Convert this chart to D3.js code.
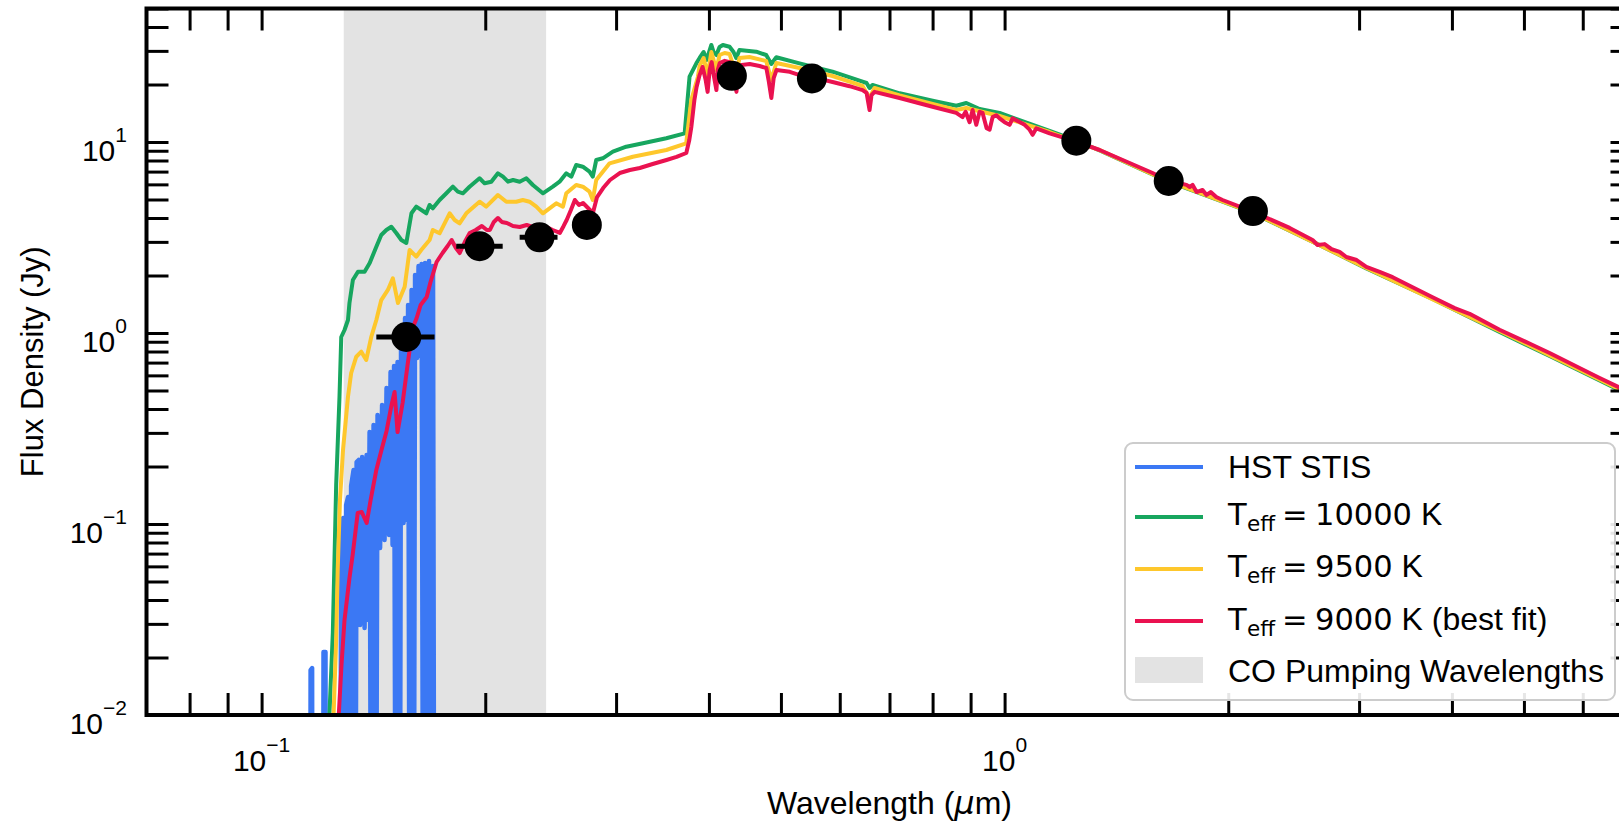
<!DOCTYPE html>
<html><head><meta charset="utf-8">
<script src="https://cdn.jsdelivr.net/npm/d3@7"></script>
<style>
html,body{margin:0;padding:0;background:#fff;overflow:hidden}
svg{display:block}
text{font-family:"Liberation Sans",Arial,sans-serif;fill:#000}
</style></head><body>
<svg id="chart" width="1619" height="831"></svg>
<script>
// ---------------- data (wavelength in micron, flux density in Jy) ----------------
// HST STIS spectrum; 1e-4 marks non-positive (clipped) flux points
const hstWave = [0.1125,0.11623,0.1164,0.11695,0.11712,0.12098,0.12115,0.1219,0.1221,0.12752,0.12794,0.12874,0.12933,0.12995,0.13074,0.13134,0.13197,0.13298,0.1336,0.13424,0.13508,0.1357,0.13655,0.1376,0.13846,0.1391,0.13975,0.14061,0.14148,0.14236,0.14324,0.14437,0.14527,0.14638,0.14729,0.14845,0.14914,0.15007,0.15076,0.1517,0.1524,0.15335,0.15406,0.15527,0.15598,0.15695,0.15746,0.15844,0.15917,0.16016,0.1609,0.1619,0.16265,0.16366,0.16416,0.16518,0.16596,0.16725,0.16802,0.16933,0.17011,0.1709];
const hstFlux = [1e-4,1e-4,0.0172,0.01762,1e-4,1e-4,0.02137,0.02137,1e-4,1e-4,0.0953,0.1075,1e-4,0.1257,0.1385,1e-4,0.1581,0.1918,1e-4,0.2112,0.2163,0.0296,0.2243,0.02855,0.2298,0.03144,0.3032,1e-4,0.3299,1e-4,0.3721,0.0748,0.4198,0.0825,0.5152,0.0876,0.6249,0.0776,0.6719,1e-4,0.705,1e-4,0.9191,0.1012,1.198,0.1049,1.402,1e-4,1.68,1e-4,2.012,0.7397,2.243,0.7578,2.298,1e-4,2.325,1e-4,2.382,1e-4,2.243,1e-4];

const t10000Wave = [0.1219,0.1234,0.1247,0.126,0.1273,0.128,0.1293,0.1307,0.1313,0.1327,0.1348,0.1376,0.1398,0.1427,0.1449,0.1472,0.1495,0.1518,0.1542,0.1566,0.1591,0.1615,0.1666,0.1683,0.17,0.1736,0.1773,0.1809,0.1837,0.1866,0.1905,0.1965,0.1996,0.2038,0.208,0.2113,0.2146,0.218,0.2225,0.2272,0.2318,0.2391,0.2466,0.2518,0.2571,0.2611,0.2651,0.2706,0.2763,0.2791,0.2821,0.2879,0.297,0.3096,0.326,0.3505,0.371,0.3767,0.3847,0.3886,0.3935,0.3971,0.403,0.4058,0.4093,0.4134,0.4177,0.4264,0.4317,0.4353,0.4397,0.4631,0.4777,0.4853,0.4929,0.5297,0.5867,0.6439,0.6519,0.658,0.6641,0.7224,0.8,0.861,0.8882,0.9255,0.9846,1.1497,1.2489,1.3426,1.582,1.651,1.965,2.157,2.597,3.068,3.767,4.636,5.414,6.322,7.0];
const t10000Flux = [0.0058,0.01,0.0269,0.16,0.4623,0.953,1.037,1.17,1.436,1.895,2.094,2.094,2.325,2.83,3.26,3.462,3.601,3.34,3.068,2.96,4.234,4.585,4.234,4.68,4.498,4.971,5.388,5.834,5.493,5.388,5.834,6.457,6.078,6.196,6.858,6.583,6.196,6.325,6.196,6.457,5.956,5.388,5.834,6.196,6.858,6.583,7.579,7.426,6.991,6.583,8.05,8.216,8.897,9.45,9.845,10.46,11.1,21.98,25.82,27.54,29.6,26.87,32.21,29.6,28.54,31.44,32.21,31.55,29.6,27.54,30.32,29.71,28.54,25.61,27.77,25.82,23.34,20.69,20.37,19.17,19.88,17.99,16.45,15.49,16.0,14.89,14.19,11.42,10.18,9.03,6.76,6.25,4.88,4.25,3.01,2.18,1.506,1.012,0.758,0.564,0.465];

const t9500Wave = [0.1238,0.125,0.126,0.1266,0.1275,0.1287,0.1307,0.132,0.1341,0.1362,0.1383,0.1405,0.1427,0.1449,0.1479,0.1502,0.1526,0.1558,0.1582,0.1615,0.164,0.1683,0.17,0.1736,0.1791,0.1819,0.1847,0.1886,0.1965,0.2006,0.208,0.2135,0.2202,0.2247,0.2294,0.2343,0.2391,0.2441,0.2492,0.2544,0.2571,0.2651,0.2706,0.2763,0.2791,0.2821,0.294,0.316,0.3505,0.3728,0.3787,0.3866,0.3886,0.3935,0.3984,0.403,0.4093,0.4134,0.4199,0.4264,0.4353,0.4397,0.4536,0.4777,0.4853,0.4929,0.5297,0.5867,0.6439,0.658,0.6683,0.7224,0.8,0.861,0.8882,0.9846,1.1497,1.3426,1.651,2.157,3.068,4.636,7.0];
const t9500Flux = [0.0058,0.01,0.0247,0.0574,0.1335,0.244,0.464,0.6174,0.7513,0.7982,0.7224,0.9564,1.17,1.488,1.68,1.933,1.436,1.747,2.72,2.509,2.72,3.068,3.462,3.327,4.234,3.905,3.752,4.234,4.869,4.585,5.279,4.869,4.869,4.971,4.869,4.585,4.234,4.498,4.777,4.585,5.388,5.956,5.834,5.493,4.971,6.325,7.735,8.375,9.081,9.845,16.59,21.98,25.0,27.54,22.43,29.6,23.82,28.54,29.24,28.89,22.43,27.54,27.86,26.56,21.12,25.92,24.4,22.16,19.65,17.0,19.17,17.52,15.81,14.71,15.07,13.68,11.28,9.06,6.29,4.27,2.19,1.024,0.471];

const t9000Wave = [0.126,0.1271,0.1281,0.1293,0.1313,0.1326,0.1347,0.1364,0.1385,0.1402,0.1427,0.145,0.1473,0.1496,0.151,0.1524,0.1548,0.1572,0.1597,0.1617,0.1637,0.1668,0.1688,0.172,0.1752,0.178,0.1802,0.1826,0.1848,0.1877,0.1906,0.1942,0.1979,0.201,0.2029,0.2054,0.208,0.2105,0.2138,0.2179,0.2226,0.2274,0.2316,0.2366,0.2418,0.2465,0.252,0.255,0.2574,0.2608,0.264,0.2674,0.2708,0.275,0.2792,0.2828,0.2882,0.2944,0.3034,0.3131,0.3229,0.336,0.3507,0.3618,0.3729,0.3764,0.3788,0.3824,0.385,0.3886,0.3922,0.396,0.3984,0.4009,0.4034,0.406,0.4094,0.4111,0.4136,0.4201,0.4266,0.432,0.4356,0.4387,0.4428,0.4538,0.468,0.4779,0.4812,0.4854,0.4889,0.4931,0.5139,0.5299,0.5636,0.5867,0.6186,0.644,0.652,0.6581,0.6621,0.6683,0.7221,0.8,0.8608,0.8779,0.8862,0.8972,0.9056,0.916,0.9255,0.9341,0.9458,0.9546,0.9635,0.9746,0.9846,1.0,1.0156,1.0251,1.0369,1.064,1.0806,1.0907,1.1034,1.1497,1.2489,1.3426,1.582,1.651,1.757,1.775,1.791,1.813,1.847,1.87,1.894,1.927,1.965,2.157,2.419,2.597,2.638,2.696,2.755,2.824,2.884,2.977,3.068,3.197,3.329,3.767,4.034,4.225,4.636,5.136,5.414,5.941,6.322,6.705,7.0];
const t9000Flux = [0.0058,0.0105,0.01827,0.03144,0.0522,0.0688,0.1142,0.1156,0.1012,0.1335,0.1918,0.244,0.307,0.42,0.491,0.303,0.43,0.68,1.062,1.198,1.402,1.543,1.849,2.353,2.623,2.854,3.069,2.786,2.623,2.995,3.34,3.462,3.634,3.462,3.462,3.814,4.0,3.814,3.767,3.634,3.589,3.676,3.589,3.634,3.589,3.462,3.34,3.634,3.906,4.405,4.971,4.679,4.794,4.512,4.249,5.152,5.742,6.325,6.88,7.135,7.31,7.67,8.05,8.35,8.76,10.24,11.98,16.6,19.4,22.4,24.7,21.1,18.3,23.8,26.2,22.4,18.7,23.8,25.9,26.6,26.2,23.8,18.3,23.8,25.3,25.6,25.0,24.4,21.1,17.0,21.6,23.8,23.3,22.4,21.4,20.6,19.6,18.7,18.1,14.7,17.6,18.3,17.0,15.3,14.2,13.5,14.4,12.7,14.7,12.3,14.4,14.2,11.8,11.6,13.5,13.8,13.3,12.7,12.3,13.3,13.0,12.3,11.6,10.9,11.8,11.1,10.04,9.08,6.88,6.33,5.96,5.81,5.96,5.47,5.61,5.28,5.47,5.15,4.97,4.32,3.55,3.07,2.89,2.92,2.75,2.66,2.5,2.41,2.22,2.09,1.96,1.54,1.35,1.26,1.04,0.865,0.786,0.656,0.581,0.521,0.479];

// photometry with x error bars
const photWave   = [0.1566,0.1965,0.2366,0.274,0.4295,0.5504,1.249,1.663,2.159];
const photFlux   = [0.953,2.85,3.17,3.68,22.2,21.5,10.16,6.25,4.35];
const photWaveLo = [0.1427,0.1828,0.2225,0.274,0.4295,0.5504,1.249,1.663,2.159];
const photWaveHi = [0.1709,0.2111,0.2502,0.274,0.4295,0.5504,1.249,1.663,2.159];

const coBand = [0.129, 0.2415];
const xDomain = [0.07, 7];
const yDomain = [0.01, 50];
const xTickValues = [0.08,0.09,0.1,0.2,0.3,0.4,0.5,0.6,0.7,0.8,0.9,1,2,3,4,5,6,7];
const yTickValues = [0.01,0.02,0.03,0.04,0.05,0.06,0.07,0.08,0.09,0.1,0.2,0.3,0.4,0.5,0.6,0.7,0.8,0.9,1,2,3,4,5,6,7,8,9,10,20,30,40,50];
const xLabelValues = [0.1, 1];
const xLabelExps = ["\u22121", "0"];
const yLabelValues = [0.01, 0.1, 1, 10];
const yLabelExps = ["\u22122", "\u22121", "0", "1"];

const colBlue = "#3b78f4", colGreen = "#17a65f", colYellow = "#fec72c", colRed = "#ea1250", colBand = "#e3e3e3";
const MATH = "'DejaVu Sans', sans-serif";

// ---------------- drawing ----------------
const svg = d3.select("#chart");
const L = 146.5, R = 1632.5, T = 8.5, B = 715;
const x = d3.scaleLog().domain(xDomain).range([L, R]);
const y = d3.scaleLog().domain(yDomain).range([B, T]);

svg.append("defs").append("clipPath").attr("id","clip")
  .append("rect").attr("x",L).attr("y",T).attr("width",R-L).attr("height",B-T);

const plot = svg.append("g").attr("clip-path","url(#clip)");
plot.append("rect").attr("x",x(coBand[0])).attr("y",T)
  .attr("width",x(coBand[1])-x(coBand[0])).attr("height",B-T).attr("fill",colBand);

const line = d3.line().x(d=>x(d[0])).y(d=>y(d[1]));
function drawSeries(w, f, color, width){
  plot.append("path").datum(w.map((v,i)=>[v,f[i]]))
    .attr("d", line).attr("fill","none").attr("stroke",color)
    .attr("stroke-width",width).attr("stroke-linejoin","round").attr("stroke-linecap","butt");
}
drawSeries(hstWave, hstFlux, colBlue, 4.5);
drawSeries(t10000Wave, t10000Flux, colGreen, 4);
drawSeries(t9500Wave, t9500Flux, colYellow, 4);
drawSeries(t9000Wave, t9000Flux, colRed, 4);

// error bars + points
photWave.forEach((w,i)=>{
  if (photWaveHi[i] > photWaveLo[i]) {
    plot.append("line").attr("x1",x(photWaveLo[i])).attr("x2",x(photWaveHi[i]))
      .attr("y1",y(photFlux[i])).attr("y2",y(photFlux[i]))
      .attr("stroke","#000").attr("stroke-width",5);
  }
});
plot.selectAll("circle.pt").data(photWave).enter().append("circle")
  .attr("cx",d=>x(d)).attr("cy",(d,i)=>y(photFlux[i])).attr("r",15).attr("fill","#000");

// ticks (inward) on all four sides
function styleAxis(g){
  g.select(".domain").remove();
  g.selectAll(".tick line").attr("stroke","#000").attr("stroke-width",3);
}
svg.append("g").attr("transform",`translate(0,${B})`)
  .call(d3.axisBottom(x).tickValues(xTickValues).tickSizeInner(-22).tickSizeOuter(0).tickFormat(()=>"")).call(styleAxis);
svg.append("g").attr("transform",`translate(0,${T})`)
  .call(d3.axisTop(x).tickValues(xTickValues).tickSizeInner(-22).tickSizeOuter(0).tickFormat(()=>"")).call(styleAxis);
svg.append("g").attr("transform",`translate(${L},0)`)
  .call(d3.axisLeft(y).tickValues(yTickValues).tickSizeInner(-22).tickSizeOuter(0).tickFormat(()=>"")).call(styleAxis);
svg.append("g").attr("transform",`translate(${R},0)`)
  .call(d3.axisRight(y).tickValues(yTickValues).tickSizeInner(-22).tickSizeOuter(0).tickFormat(()=>"")).call(styleAxis);

// spines
svg.append("rect").attr("x",L).attr("y",T).attr("width",R-L).attr("height",B-T)
  .attr("fill","none").attr("stroke","#000").attr("stroke-width",4);

// tick labels
xLabelValues.forEach((v,i)=>{
  const t = svg.append("text").attr("x",x(v)).attr("y",771).attr("text-anchor","middle").attr("font-size",30);
  t.append("tspan").text("10");
  t.append("tspan").attr("font-size",21).attr("dy",-19).text(xLabelExps[i]);
});
yLabelValues.forEach((v,i)=>{
  const t = svg.append("text").attr("x",127).attr("y",y(v)+19).attr("text-anchor","end").attr("font-size",30);
  t.append("tspan").text("10");
  t.append("tspan").attr("font-size",21).attr("dy",-19).text(yLabelExps[i]);
});

// axis titles
const xt = svg.append("text").attr("x",(L+R)/2).attr("y",814).attr("text-anchor","middle").attr("font-size",32);
xt.append("tspan").text("Wavelength (");
xt.append("tspan").attr("font-family",MATH).attr("font-style","italic").text("\u03bc");
xt.append("tspan").text("m)");
svg.append("text").attr("transform",`translate(43,${(T+B)/2}) rotate(-90)`)
  .attr("text-anchor","middle").attr("font-size",31).text("Flux Density (Jy)");

// legend
const lg = svg.append("g");
lg.append("rect").attr("x",1125).attr("y",443).attr("width",490).attr("height",257)
  .attr("rx",8).attr("fill","#fff").attr("fill-opacity",0.9).attr("stroke","#cccccc").attr("stroke-width",2);
const legendColors = [colBlue, colGreen, colYellow, colRed];
const legendLineY = [467, 517, 569, 621];
legendColors.forEach((c,i)=>{
  lg.append("line").attr("x1",1135).attr("x2",1203).attr("y1",legendLineY[i]).attr("y2",legendLineY[i])
    .attr("stroke",c).attr("stroke-width",4);
});
lg.append("rect").attr("x",1135).attr("y",657).attr("width",68).attr("height",26).attr("fill",colBand);

lg.append("text").attr("x",1228).attr("y",478).attr("font-size",32).text("HST STIS");
const teffRows = [
  {base:525, num:"10000", rest:" K"},
  {base:577, num:"9500",  rest:" K"},
  {base:630, num:"9000",  rest:" K (best fit)"}
];
teffRows.forEach(r=>{
  const t = lg.append("text").attr("y",r.base).attr("xml:space","preserve");
  t.append("tspan").attr("font-family",MATH).attr("x",1228).attr("font-size",30.5).text("T");
  t.append("tspan").attr("font-family",MATH).attr("x",1247).attr("dy",6).attr("font-size",21.5).text("eff");
  t.append("tspan").attr("font-family",MATH).attr("x",1282).attr("dy",-6).attr("font-size",30.5).text("=");
  t.append("tspan").attr("font-family",MATH).attr("x",1315).attr("font-size",30.5).text(r.num);
  t.append("tspan").attr("font-size",32).text(r.rest);
});
lg.append("text").attr("x",1228).attr("y",682).attr("font-size",32).text("CO Pumping Wavelengths");
</script></body></html>
